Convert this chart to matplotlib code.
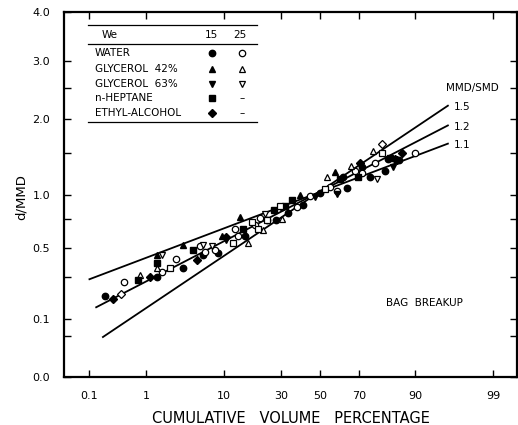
import numpy as np
import matplotlib
matplotlib.use("Agg")
import matplotlib.pyplot as plt
from statistics import NormalDist

# --- data: cumulative volume percentage (%) and d/MMD ---
water15_p = [0.20, 1.43, 3.3, 5.8, 8.6, 15.7, 24.1, 27.8, 33.4, 41.0, 50.0, 64.4, 62.1, 71.6, 74.9, 81.0, 81.9, 85.7]
water15_d = [0.196, 0.30, 0.355, 0.447, 0.462, 0.60, 0.736, 0.736, 0.81, 0.89, 1.02, 1.074, 1.20, 1.32, 1.195, 1.28, 1.43, 1.41]
water25_p = [0.43, 1.71, 2.7, 6.2, 5.4, 8.0, 12.7, 13.6, 19.2, 21.1, 30.5, 37.9, 44.7, 55.3, 59.3, 68.1, 71.6, 77.2, 89.9]
water25_d = [0.272, 0.329, 0.416, 0.466, 0.513, 0.482, 0.66, 0.60, 0.69, 0.755, 0.87, 0.87, 0.98, 1.08, 1.044, 1.28, 1.255, 1.37, 1.50]

gly42_15_p = [1.43, 3.3, 9.4, 14.3, 39.7, 58.2]
gly42_15_d = [0.447, 0.52, 0.60, 0.764, 0.99, 1.26]
gly42_25_p = [0.79, 1.43, 16.7, 22.2, 30.5, 54.0, 66.1, 76.1]
gly42_25_d = [0.31, 0.355, 0.54, 0.645, 0.745, 1.195, 1.34, 1.54]

gly63_15_p = [10.4, 47.3, 59.3, 83.6]
gly63_15_d = [0.56, 0.97, 1.01, 1.33]
gly63_25_p = [1.71, 5.8, 7.4, 23.1, 78.0]
gly63_25_d = [0.447, 0.52, 0.513, 0.80, 1.18]

heptane_p = [0.73, 1.43, 4.4, 15.1, 27.1, 32.0, 35.4, 60.6, 69.5, 82.6]
heptane_d = [0.284, 0.388, 0.482, 0.658, 0.833, 0.883, 0.936, 1.18, 1.195, 1.445]
open_sq_p = [2.2, 12.2, 18.1, 20.3, 24.1, 29.6, 52.7, 79.9]
open_sq_d = [0.355, 0.54, 0.717, 0.658, 0.736, 0.883, 1.06, 1.51]

ethyl_p = [0.28, 1.13, 5.0, 10.4, 70.4, 84.3, 84.9, 86.4]
ethyl_d = [0.184, 0.30, 0.409, 0.585, 1.37, 1.43, 1.41, 1.51]
open_dia_p = [0.38, 79.9]
open_dia_d = [0.208, 1.635]

# root-normal lines for MMD/SMD = 1.5, 1.2, 1.1
fit_labels = ["1.5", "1.2", "1.1"]
fit_p = [[0.181, 95.7], [0.135, 95.7], [0.10, 95.7]]
fit_d = [[0.048, 2.21], [0.146, 1.90], [0.287, 1.635]]

xticks = [0.1, 1, 10, 30, 50, 70, 90, 99]
xticklabels = ["0.1", "1", "10", "30", "50", "70", "90", "99"]
yticks = [0.0, 0.05, 0.1, 0.3, 0.5, 0.75, 1.0, 1.5, 2.0, 2.5, 3.0, 4.0]
yticklabels = ["0.0", "", "0.1", "", "0.5", "", "1.0", "", "2.0", "", "3.0", "4.0"]

_nd = NormalDist()
_ppf = np.vectorize(_nd.inv_cdf, otypes=[float])
_cdf = np.vectorize(_nd.cdf, otypes=[float])


def prob_fwd(p):
    p = np.clip(np.asarray(p, dtype=float) / 100.0, 1e-9, 1 - 1e-9)
    return _ppf(p)


def prob_inv(z):
    return 100.0 * _cdf(np.asarray(z, dtype=float))


def root_fwd(y):
    return np.sqrt(np.clip(np.asarray(y, dtype=float), 0, None))


def root_inv(y):
    return np.square(y)


W, H = 518, 425
fig = plt.figure(figsize=(W / 100, H / 100), dpi=100)
ax = fig.add_axes([64 / W, 1 - 377 / H, (517 - 64) / W, (377 - 12) / H])

ax.set_xscale('function', functions=(prob_fwd, prob_inv))
ax.set_yscale('function', functions=(root_fwd, root_inv))
ax.set_xlim(0.030, 99.59)
ax.set_ylim(0.0, 4.0)

# fitted lines
for lab, xs, ys in zip(fit_labels, fit_p, fit_d):
    ax.plot(xs, ys, color='black', lw=1.3, zorder=1)
    ax.annotate(lab, xy=(xs[-1], ys[-1]), xytext=(4, -1), textcoords='offset points',
                fontsize=7.5, va='center', ha='left')

filled = dict(color='black', linestyle='none', zorder=3)
hollow = dict(markerfacecolor='white', markeredgecolor='black', markeredgewidth=0.9,
              linestyle='none', zorder=3)
ms = 4.6
ax.plot(water15_p, water15_d, 'o', ms=ms, **filled)
ax.plot(water25_p, water25_d, 'o', ms=ms, **hollow)
ax.plot(gly42_15_p, gly42_15_d, '^', ms=ms, **filled)
ax.plot(gly42_25_p, gly42_25_d, '^', ms=ms, **hollow)
ax.plot(gly63_15_p, gly63_15_d, 'v', ms=ms, **filled)
ax.plot(gly63_25_p, gly63_25_d, 'v', ms=ms, **hollow)
ax.plot(heptane_p, heptane_d, 's', ms=4.2, **filled)
ax.plot(open_sq_p, open_sq_d, 's', ms=4.2, **hollow)
ax.plot(ethyl_p, ethyl_d, 'D', ms=3.8, **filled)
ax.plot(open_dia_p, open_dia_d, 'D', ms=3.8, **hollow)

ax.set_xticks(xticks)
ax.set_xticklabels(xticklabels)
ax.set_yticks(yticks)
ax.set_yticklabels(yticklabels)
ax.xaxis.set_minor_locator(matplotlib.ticker.NullLocator())
ax.yaxis.set_minor_locator(matplotlib.ticker.NullLocator())
ax.tick_params(direction='in', length=5, width=1.0, top=True, right=True,
               labelsize=8)
ax.tick_params(axis='x', pad=10)
ax.tick_params(axis='y', pad=10)
for s in ax.spines.values():
    s.set_linewidth(1.6)

ax.set_xlabel("CUMULATIVE   VOLUME   PERCENTAGE", fontsize=10.5, labelpad=7)
ax.set_ylabel("d/MMD", fontsize=9.5)
ax.yaxis.set_label_coords(-0.079, 0.493)

# legend table (figure pixel coordinates)
def fxy(x, y):
    return x / W, 1 - y / H

for yy in (25, 44, 122):
    x0, y0 = fxy(88, yy)
    x1, _ = fxy(257, yy)
    fig.add_artist(matplotlib.lines.Line2D([x0, x1], [y0, y0], color='black', lw=0.9))

fig.text(*fxy(102, 35), "We", fontsize=7.5, va='center', ha='left')
fig.text(*fxy(211, 35), "15", fontsize=7.5, va='center', ha='center')
fig.text(*fxy(240, 35), "25", fontsize=7.5, va='center', ha='center')

rows = [("WATER", 53, 'o', 'o'), ("GLYCEROL  42%", 69, '^', '^'),
        ("GLYCEROL  63%", 84, 'v', 'v'), ("n-HEPTANE", 98, 's', None),
        ("ETHYL-ALCOHOL", 113, 'D', None)]
for name, yy, m15, m25 in rows:
    fig.text(*fxy(95, yy), name, fontsize=7.5, va='center', ha='left')
    x15, yf = fxy(212, yy)
    x25, _ = fxy(242, yy)
    msz = 3.8 if m15 == 'D' else (4.2 if m15 == 's' else ms)
    fig.add_artist(matplotlib.lines.Line2D([x15], [yf], marker=m15, ms=msz, color='black',
                                           linestyle='none'))
    if m25 is not None:
        fig.add_artist(matplotlib.lines.Line2D([x25], [yf], marker=m25, ms=ms,
                                               markerfacecolor='white', markeredgecolor='black',
                                               markeredgewidth=0.9, linestyle='none'))
    else:
        fig.text(x25, yf, "\u2013", fontsize=7.5, va='center', ha='center')

fig.text(*fxy(472, 88), "MMD/SMD", fontsize=7.5, va='center', ha='center')
fig.text(*fxy(424, 303), "BAG  BREAKUP", fontsize=7.5, va='center', ha='center')

fig.savefig("out.png", dpi=100, facecolor='white')
